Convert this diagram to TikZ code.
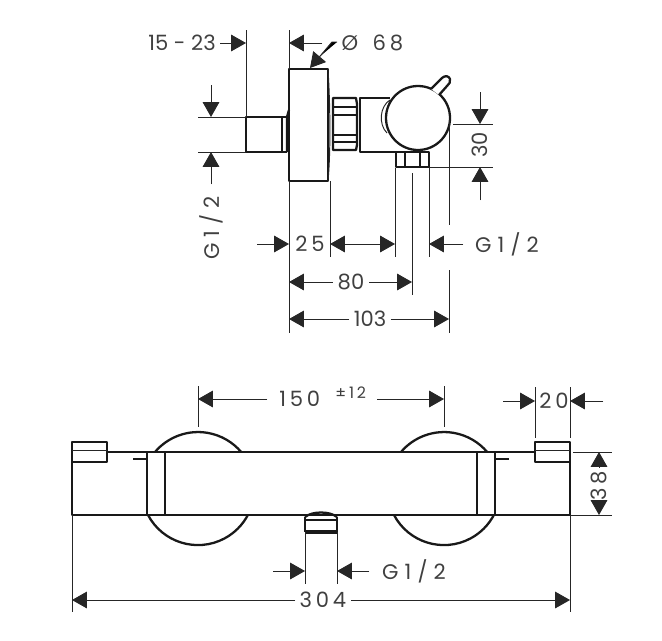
\documentclass[tikz,border=0pt]{standalone}
\usepackage{fontspec}
\setmainfont{Poppins}
\newfontfamily\widefont[LetterSpace=18]{Poppins}
\newfontfamily\widerfont[LetterSpace=29]{Poppins}
\usetikzlibrary{arrows.meta}
\begin{document}
\begin{tikzpicture}
[x=0.02cm,y=-0.02cm,
  outlinedecorate/.style={line width=1.3pt,draw=black!90,line join=round},%
  thindecorate/.style={line width=0.55pt,draw=black!85},%
  arrowdecorate/.style={-{Triangle[length=8.5pt,width=9.5pt]},line width=0.55pt,draw=black!85,fill=black},%
  labeldecorate/.style={inner sep=2.5pt,font=\fontsize{12}{14}\selectfont,text=black!75},%
  widedecorate/.style={labeldecorate,font=\fontsize{12}{14}\selectfont\widefont},%
  threaddecorate/.style={labeldecorate,font=\fontsize{12}{14}\selectfont\widerfont}]
\useasboundingbox (0,0) rectangle (662,640);
% side view
\draw[outlinedecorate] (289,69) rectangle (328,181);
\draw[thindecorate] (328,69) .. controls (330,100) and (331,150) .. (328,181);
\draw[outlinedecorate] (287,117) -- (246,117) -- (246,152) -- (287,152);
\draw[outlinedecorate] (282,117) -- (282,152);
\draw[outlinedecorate] (287,152) -- (287,117) -- (289,110);
\draw[outlinedecorate] (333,98) -- (356,98) -- (357,104) -- (357,145) -- (356,150) -- (333,150) -- cycle;
\draw[outlinedecorate] (333,107) -- (356,107) (333,115) -- (356,115) (333,135) -- (356,135) (333,142) -- (356,142);
\draw[outlinedecorate] (390,98) -- (360,98) -- (360,152) -- (403,152);
\draw[outlinedecorate] (396,152) rectangle (429,167);
\draw[outlinedecorate] (405,152) -- (405,167) (420,152) -- (420,167);
\draw[thindecorate] (390,100) .. controls (380,106) and (378,124) .. (387,133);
\draw[outlinedecorate,fill=white] (418,118) circle[radius=32];
\draw[outlinedecorate,fill=white] (431,89) -- (442,78) .. controls (445,75) and (449,76) .. (450,79) .. controls (451,82) and (449,84) .. (447,86) -- (439,95);
% extension lines
\draw[thindecorate] (246,30) -- (246,117);
\draw[thindecorate] (289,30) -- (289,69) (289,181) -- (289,333);
\draw[thindecorate] (198,117) -- (246,117) (198,152) -- (246,152);
\draw[thindecorate] (330,181) -- (330,257);
\draw[thindecorate] (395,168) -- (395,257) (429,168) -- (429,257);
\draw[thindecorate] (412,173) -- (412,295);
\draw[thindecorate] (449,120) -- (449,225) (449,270) -- (449,333);
\draw[thindecorate] (453,124) -- (493,124) (429,167) -- (493,167);
% side view labels
\node[labeldecorate] (ltopgap) at (182,43) {15 - 23};
\node[labeldecorate,anchor=west] (ldiameter) at (337,43) {Ø \hspace{5pt}{\widefont 68}};
\node[threaddecorate,rotate=90] (lsidethread) at (211,228) {G1/2};
\node[labeldecorate,rotate=90] (lheight) at (480,145) {30};
\node[widedecorate] (lnut) at (310,244) {25};
\node[threaddecorate] (lsidegone) at (507,244) {G1/2};
\node[labeldecorate] (leighty) at (351,282) {80};
\node[labeldecorate] (ldepth) at (370,319) {103};
% side view dimensions
\coordinate (gapend) at (246,43);
\draw[arrowdecorate] (ltopgap.east) -- (gapend);
\coordinate (diaend) at (289,43);
\coordinate (diastart) at (322,43);
\draw[arrowdecorate] (diastart) -- (diaend);
\coordinate (leadera) at (337,42);
\coordinate (leaderb) at (332,42);
\coordinate (leaderc) at (310,68);
\draw[arrowdecorate] (leadera) -- (leaderb) -- (leaderc);
\coordinate (threadtopa) at (211,85);
\coordinate (threadtopb) at (211,117);
\coordinate (threadbota) at (211,184);
\coordinate (threadbotb) at (211,152);
\draw[arrowdecorate] (threadtopa) -- (threadtopb);
\draw[arrowdecorate] (threadbota) -- (threadbotb);
\coordinate (hta) at (480,92);
\coordinate (htb) at (480,124);
\coordinate (hba) at (480,200);
\coordinate (hbb) at (480,167);
\draw[arrowdecorate] (hta) -- (htb);
\draw[arrowdecorate] (hba) -- (hbb);
\coordinate (nuta) at (257,244);
\coordinate (nutb) at (289,244);
\coordinate (nutc) at (330,244);
\coordinate (nutd) at (395,244);
\coordinate (nute) at (463,244);
\coordinate (nutf) at (429,244);
\draw[arrowdecorate] (nuta) -- (nutb);
\draw[arrowdecorate,{Triangle[length=8.5pt,width=9.5pt]}-{Triangle[length=8.5pt,width=9.5pt]}] (nutc) -- (nutd);
\draw[arrowdecorate] (nute) -- (nutf);
\coordinate (eightya) at (289,282);
\coordinate (eightyb) at (412,282);
\draw[arrowdecorate] (leighty.west) -- (eightya);
\draw[arrowdecorate] (leighty.east) -- (eightyb);
\coordinate (deptha) at (289,319);
\coordinate (depthb) at (449,319);
\draw[arrowdecorate] (ldepth.west) -- (deptha);
\draw[arrowdecorate] (ldepth.east) -- (depthb);
% front view
\draw[outlinedecorate] (155,452) arc[start angle=220.3,end angle=319.7,radius=56.5];
\draw[outlinedecorate] (148,515) arc[start angle=152.1,end angle=27.9,radius=56.5];
\draw[outlinedecorate] (401,452) arc[start angle=220.3,end angle=319.7,radius=56.5];
\draw[outlinedecorate] (394,515) arc[start angle=152.1,end angle=27.9,radius=56.5];
\draw[outlinedecorate] (72,452) rectangle (570,515);
\draw[outlinedecorate] (147,452) -- (147,515) (165,452) -- (165,515);
\draw[outlinedecorate] (477,452) -- (477,515) (495,452) -- (495,515);
\draw[outlinedecorate] (133,459) -- (147,459) (495,459) -- (509,459);
\draw[outlinedecorate,fill=white] (72,442) rectangle (107,462);
\draw[outlinedecorate,fill=white] (535,442) rectangle (570,462);
\draw[thindecorate] (72,450) -- (107,450) (535,450) -- (570,450);
\draw[outlinedecorate] (305,517) .. controls (312,511) and (330,511) .. (337,517);
\draw[outlinedecorate] (305,517) -- (305,532) (337,517) -- (337,532) (305,520) -- (337,520);
\draw[line width=2pt,draw=black!90] (305,532) -- (337,532);
% extension lines
\draw[thindecorate] (198,386) -- (198,427) (444,386) -- (444,427);
\draw[thindecorate] (535,387) -- (535,438) (570,387) -- (570,438);
\draw[thindecorate] (573,452) -- (612,452) (570,515) -- (612,515);
\draw[thindecorate] (305,532) -- (305,584) (337,532) -- (337,584);
\draw[thindecorate] (72,515) -- (72,612) (570,515) -- (570,612);
% front view labels
\node[widedecorate,anchor=west,inner sep=0pt] (lspacing) at (279,399) {150};
\node[labeldecorate,anchor=west,inner sep=0pt,font=\fontsize{9}{10}\selectfont\widefont] (ltolerance) at (335,393) {±12};
\node[widedecorate] (lcap) at (554,401) {20};
\node[widedecorate,rotate=90] (lbody) at (599,486) {38};
\node[threaddecorate] (lfrontthread) at (414,571) {G1/2};
\node[widedecorate] (lwidth) at (323,600) {304};
% front view dimensions
\coordinate (spacinga) at (267,399);
\coordinate (spacingb) at (198,399);
\coordinate (spacingc) at (377,399);
\coordinate (spacingd) at (444,399);
\draw[arrowdecorate] (spacinga) -- (spacingb);
\draw[arrowdecorate] (spacingc) -- (spacingd);
\coordinate (capa) at (503,401);
\coordinate (capb) at (535,401);
\coordinate (capc) at (603,401);
\coordinate (capd) at (570,401);
\draw[arrowdecorate] (capa) -- (capb);
\draw[arrowdecorate] (capc) -- (capd);
\coordinate (bodya) at (599,452);
\coordinate (bodyb) at (599,515);
\draw[arrowdecorate] (lbody.east) -- (bodya);
\draw[arrowdecorate] (lbody.west) -- (bodyb);
\coordinate (outa) at (273,571);
\coordinate (outb) at (305,571);
\coordinate (outc) at (369,571);
\coordinate (outd) at (337,571);
\draw[arrowdecorate] (outa) -- (outb);
\draw[arrowdecorate] (outc) -- (outd);
\coordinate (widtha) at (72,600);
\coordinate (widthb) at (570,600);
\draw[arrowdecorate] (lwidth.west) -- (widtha);
\draw[arrowdecorate] (lwidth.east) -- (widthb);
\end{tikzpicture}
\end{document}
